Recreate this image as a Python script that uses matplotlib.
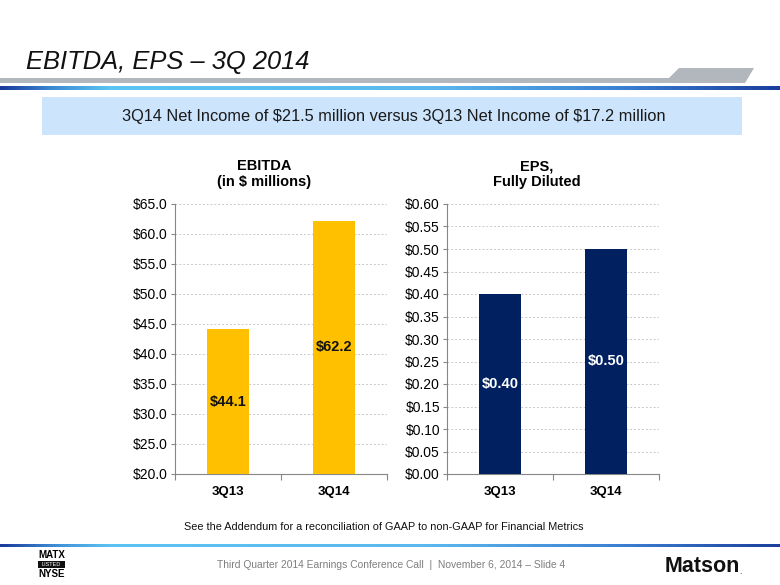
import numpy as np
import matplotlib as mpl
import matplotlib.pyplot as plt
from matplotlib.colors import LinearSegmentedColormap
from matplotlib.ticker import FixedLocator

plt.rcParams['font.family'] = ['Liberation Sans', 'DejaVu Sans']
plt.rcParams['text.parse_math'] = False

# data
quarters = ['3Q13', '3Q14']
ebitda = [44.1, 62.2]
eps = [0.40, 0.50]
ebitda_ticks = [20, 25, 30, 35, 40, 45, 50, 55, 60, 65]
eps_ticks = [0.00, 0.05, 0.10, 0.15, 0.20, 0.25, 0.30, 0.35, 0.40, 0.45, 0.50, 0.55, 0.60]

W, H = 780, 585
fig = plt.figure(figsize=(W / 100, H / 100), dpi=100)

# slide decorations in pixel coords
deco = fig.add_axes([0, 0, 1, 1], zorder=0)
deco.set_xlim(0, W)
deco.set_ylim(H, 0)
deco.axis('off')

band = LinearSegmentedColormap.from_list('band', [
    (0.0, '#1b3c9c'), (0.07, '#3f8fd8'), (0.14, '#5cc4f2'), (0.55, '#5bb8ee'),
    (0.8, '#3b7fd2'), (1.0, '#1c3f9e')])
grad = np.linspace(0, 1, 400).reshape(1, -1)
deco.imshow(grad, cmap=band, aspect='auto', extent=(0, W, 90, 86), zorder=1)
deco.imshow(grad, cmap=band, aspect='auto', extent=(0, W, 547, 544), zorder=1)

# gray title rule with raised tab on the right
deco.add_patch(mpl.patches.Rectangle((0, 78), 680, 5, color='#b1b7bd', lw=0))
deco.add_patch(mpl.patches.Polygon([(664, 83), (672, 75), (679, 68), (754, 68), (745, 83)],
                                   closed=True, color='#b1b7bd', lw=0))

deco.text(26, 62, 'EBITDA, EPS \u2013 3Q 2014', fontsize=18.4, style='italic',
          va='center', ha='left', color='#111111')

# highlight box
deco.add_patch(mpl.patches.Rectangle((42, 97), 700, 38, color='#cce4fc', lw=0))
deco.text(394, 116, '3Q14 Net Income of $21.5 million versus 3Q13 Net Income of $17.2 million',
          fontsize=11.8, ha='center', va='center', color='#1a1a1a')

deco.text(384, 527, 'See the Addendum for a reconciliation of GAAP to non-GAAP for Financial Metrics',
          fontsize=7.85, ha='center', va='center', color='#111111')

# footer
deco.text(391, 565, 'Third Quarter 2014 Earnings Conference Call  |  November 6, 2014 \u2013 Slide 4',
          fontsize=7.4, ha='center', va='center', color='#7f7f7f')
deco.text(665, 566, 'Matson', fontsize=15.5, fontweight='bold', ha='left', va='center',
          color='#111111')
deco.text(739, 572, '.', fontsize=6, ha='left', va='center', color='#111111')
deco.text(51.5, 555, 'MATX', fontsize=7, fontweight='bold', ha='center', va='center')
deco.add_patch(mpl.patches.Rectangle((38, 561), 27, 6.5, color='#111111', lw=0))
deco.text(51.5, 564.3, 'LISTED', fontsize=4, color='white', ha='center', va='center')
deco.text(51.5, 574, 'NYSE', fontsize=7, fontweight='bold', ha='center', va='center')

# chart titles
fig.text(264 / W, 1 - 174 / H, 'EBITDA\n(in $ millions)', fontsize=10.5, fontweight='bold',
         ha='center', va='center', linespacing=1.15)
fig.text(537 / W, 1 - 174 / H, 'EPS,\nFully Diluted', fontsize=10.5, fontweight='bold',
         ha='center', va='center', linespacing=1.15)


def bar_panel(ax, values, ticks, color, fmt, label_color):
    x = np.arange(len(quarters))
    ax.bar(x, values, width=0.4, color=color, zorder=3)
    ax.set_xlim(-0.5, len(quarters) - 0.5)
    ax.set_ylim(ticks[0], ticks[-1])
    ax.yaxis.set_major_locator(FixedLocator(ticks))
    ax.set_yticklabels([fmt.format(t) for t in ticks], fontsize=10)
    ax.set_xticks(x)
    ax.set_xticklabels(quarters, fontsize=9.5, fontweight='bold')
    ax.xaxis.set_minor_locator(FixedLocator(np.arange(-0.5, len(quarters), 1.0)))
    ax.tick_params(axis='x', which='major', length=0, pad=9)
    ax.tick_params(axis='x', which='minor', length=4, color='#868686', width=0.8)
    ax.tick_params(axis='y', length=3, color='#868686', width=0.8, pad=2)
    ax.grid(axis='y', linestyle=(0, (2, 2)), color='#c8c8c8', linewidth=0.7, zorder=0)
    for s in ['top', 'right']:
        ax.spines[s].set_visible(False)
    for s in ['left', 'bottom']:
        ax.spines[s].set_color('#868686')
        ax.spines[s].set_linewidth(0.8)
    for xi, v in zip(x, values):
        ax.text(xi, (ticks[0] + v) / 2, fmt.format(v), ha='center', va='center',
                fontsize=10.5, fontweight='bold', color=label_color, zorder=4)


ax1 = fig.add_axes([175 / W, 111 / H, 212 / W, 270 / H], zorder=2)
bar_panel(ax1, ebitda, ebitda_ticks, '#ffc000', '${:.1f}', '#111111')
ax2 = fig.add_axes([447 / W, 111 / H, 212 / W, 270 / H], zorder=2)
bar_panel(ax2, eps, eps_ticks, '#002060', '${:.2f}', 'white')

fig.savefig('out.png', dpi=100)
